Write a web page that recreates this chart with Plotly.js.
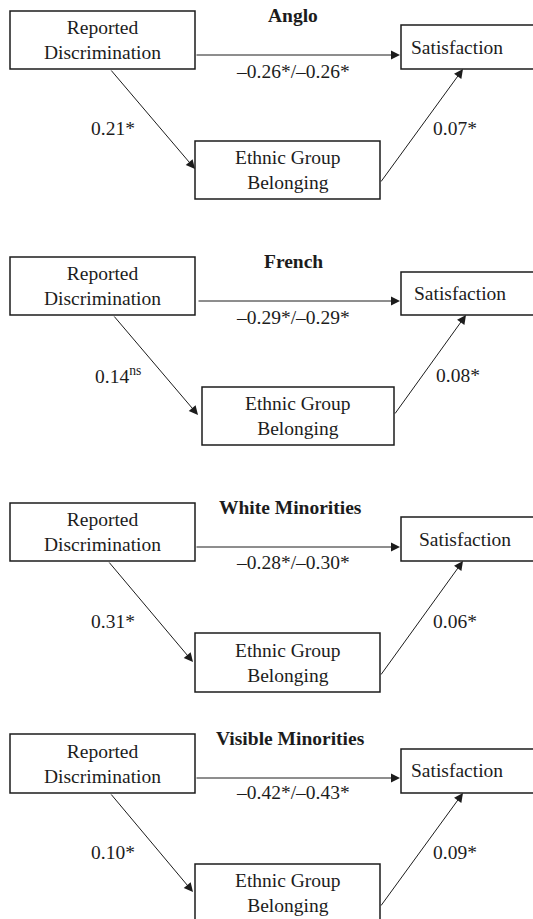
<!DOCTYPE html>
<html>
<head>
<meta charset="utf-8">
<script src="https://cdn.plot.ly/plotly-3.0.1.min.js"></script>
<style>html,body{margin:0;padding:0;background:#fff;}#chart{width:533px;height:919px;}</style>
</head>
<body>
<div id="chart"></div>
<script>
// ---- data (labels & coefficients) ----
const groups = ['Anglo', 'French', 'White Minorities', 'Visible Minorities'];
const directEffects = ['\u20130.26*/\u20130.26*', '\u20130.29*/\u20130.29*', '\u20130.28*/\u20130.30*', '\u20130.42*/\u20130.43*'];
const pathA = ['0.21*', '0.14<sup>ns</sup>', '0.31*', '0.10*'];
const pathB = ['0.07*', '0.08*', '0.06*', '0.09*'];
const nodePredictor = 'Reported<br>Discrimination';
const nodeMediator = 'Ethnic Group<br>Belonging';
const nodeOutcome = 'Satisfaction';

// ---- layout geometry (pixels, y down) ----
const geom = [
  {rd:[10,195,11,69], title:[293,15], sat:[401,545,25,69], satT:[457,47], hy:55, hx:[195,400], dl:[293,71],
   da:[110,69,195,169], al:[113,128], eg:[195,380,141,199], eb:[380,183,463,69], bl:[455,128]},
  {rd:[10,195,257,315], title:[293,261], sat:[401,545,272,315], satT:[460,293], hy:301, hx:[197,400], dl:[293,317],
   da:[113,315,198,415], al:[118,375], eg:[202,394,387,445], eb:[394,415,466,315], bl:[458,375]},
  {rd:[10,195,503,561], title:[290,507], sat:[401,545,517,561], satT:[465,539], hy:547, hx:[195,400], dl:[293,562],
   da:[108,561,193,662], al:[113,621], eg:[195,380,633,692], eb:[380,676,463,561], bl:[455,621]},
  {rd:[10,195,734,793], title:[290,738], sat:[401,545,749,793], satT:[457,770], hy:778, hx:[195,400], dl:[293,792],
   da:[110,793,193,892], al:[113,852], eg:[195,380,864,922], eb:[380,907,463,793], bl:[455,852]}
];

const ink = '#1c1c1c';
const fontFam = 'Liberation Serif, Times New Roman, serif';
const fs = 19.5;
const shapes = [];
const annotations = [];

function box(b) {
  shapes.push({type:'rect', xref:'x', yref:'y', x0:b[0], x1:b[1], y0:b[2], y1:b[3],
    line:{color:ink, width:1.5}, fillcolor:'rgba(0,0,0,0)'});
}
function label(x, y, text, bold) {
  annotations.push({x:x, y:y, xref:'x', yref:'y', text: bold ? '<b>'+text+'</b>' : text,
    showarrow:false, xanchor:'center', yanchor:'middle',
    font:{family:fontFam, size:fs, color:ink}});
}
function arrow(x0, y0, x1, y1) {
  annotations.push({x:x1, y:y1, ax:x0, ay:y0, xref:'x', yref:'y', axref:'x', ayref:'y',
    text:'', showarrow:true, arrowhead:2, arrowsize:1.8, arrowwidth:1, arrowcolor:ink, standoff:0, startstandoff:0});
}

groups.forEach((g, i) => {
  const p = geom[i];
  box(p.rd); box(p.sat); box(p.eg);
  label((p.rd[0]+p.rd[1])/2, (p.rd[2]+p.rd[3])/2, nodePredictor);
  label(p.satT[0], p.satT[1], nodeOutcome);
  label((p.eg[0]+p.eg[1])/2, (p.eg[2]+p.eg[3])/2, nodeMediator);
  label(p.title[0], p.title[1], g, true);
  arrow(p.hx[0], p.hy, p.hx[1], p.hy);
  label(p.dl[0], p.dl[1], directEffects[i]);
  arrow(p.da[0], p.da[1], p.da[2], p.da[3]);
  label(p.al[0], p.al[1], pathA[i]);
  arrow(p.eb[0], p.eb[1], p.eb[2], p.eb[3]);
  label(p.bl[0], p.bl[1], pathB[i]);
});

const layout = {
  width:533, height:919,
  margin:{l:0, r:0, t:0, b:0},
  paper_bgcolor:'#ffffff', plot_bgcolor:'#ffffff',
  font:{family:fontFam, size:fs, color:ink},
  xaxis:{range:[0,533], visible:false, fixedrange:true},
  yaxis:{range:[919,0], visible:false, fixedrange:true},
  shapes:shapes, annotations:annotations, showlegend:false
};
Plotly.newPlot('chart', [], layout, {staticPlot:true, displayModeBar:false});
</script>
</body>
</html>
